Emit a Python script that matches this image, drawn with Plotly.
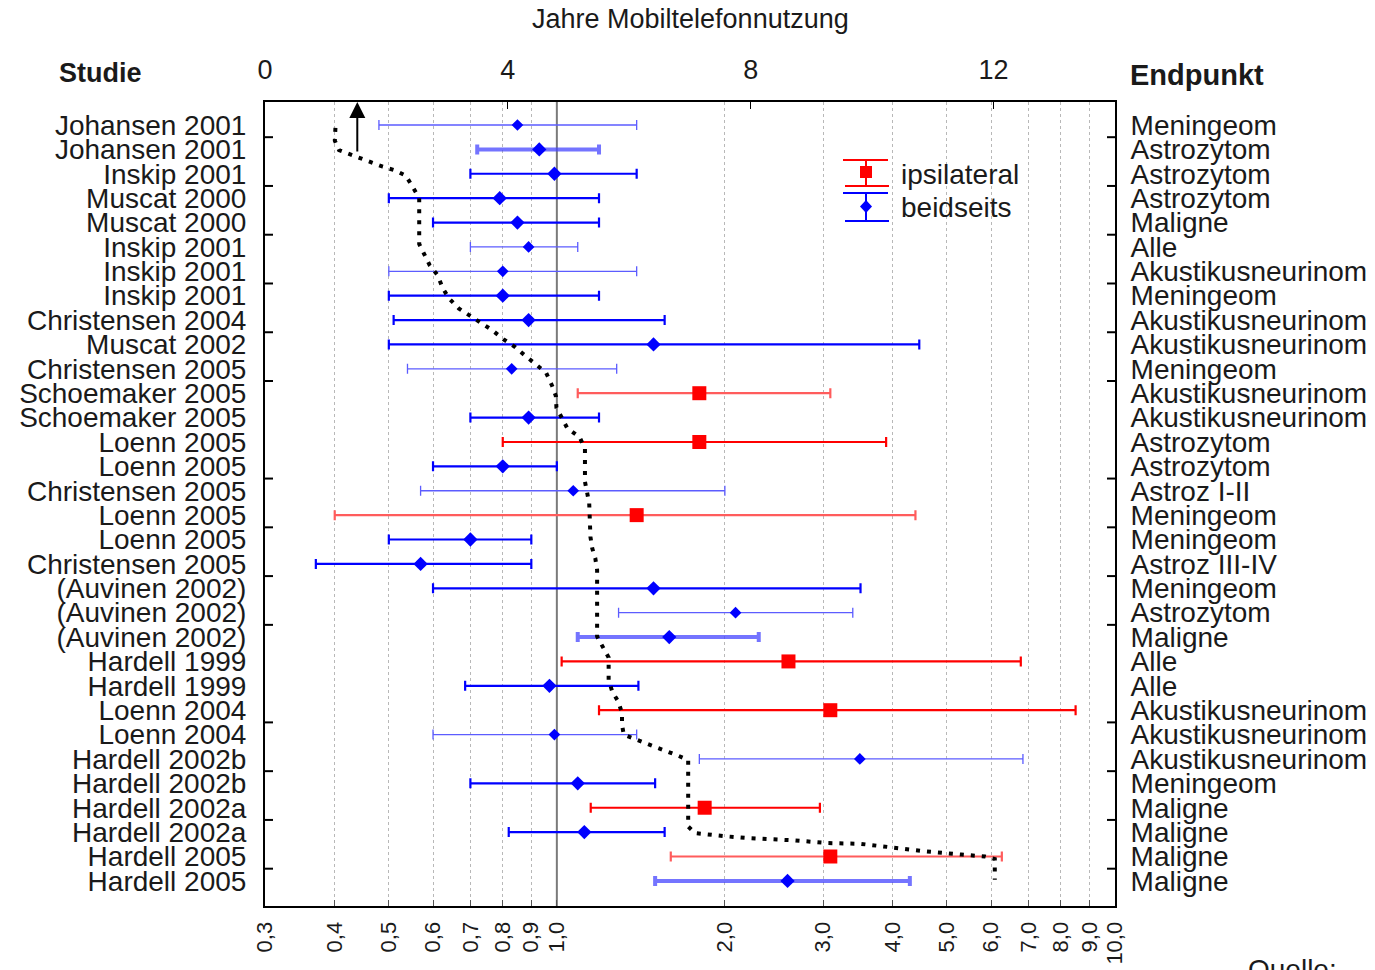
import math
import plotly.graph_objects as go

# ---------------- data ----------------
studies = ["Johansen 2001", "Johansen 2001", "Inskip 2001", "Muscat 2000", "Muscat 2000",
           "Inskip 2001", "Inskip 2001", "Inskip 2001", "Christensen 2004", "Muscat 2002",
           "Christensen 2005", "Schoemaker 2005", "Schoemaker 2005", "Loenn 2005", "Loenn 2005",
           "Christensen 2005", "Loenn 2005", "Loenn 2005", "Christensen 2005", "(Auvinen 2002)",
           "(Auvinen 2002)", "(Auvinen 2002)", "Hardell 1999", "Hardell 1999", "Loenn 2004",
           "Loenn 2004", "Hardell 2002b", "Hardell 2002b", "Hardell 2002a", "Hardell 2002a",
           "Hardell 2005", "Hardell 2005"]

endpoints = ["Meningeom", "Astrozytom", "Astrozytom", "Astrozytom", "Maligne",
             "Alle", "Akustikusneurinom", "Meningeom", "Akustikusneurinom", "Akustikusneurinom",
             "Meningeom", "Akustikusneurinom", "Akustikusneurinom", "Astrozytom", "Astrozytom",
             "Astroz I-II", "Meningeom", "Meningeom", "Astroz III-IV", "Meningeom",
             "Astrozytom", "Maligne", "Alle", "Alle", "Akustikusneurinom",
             "Akustikusneurinom", "Akustikusneurinom", "Meningeom", "Maligne", "Maligne",
             "Maligne", "Maligne"]

side = ["beidseits"] * 32
for _i in [11, 13, 16, 22, 24, 28, 30]:
    side[_i] = "ipsilateral"

odds_ratio = [0.85, 0.93, 0.99, 0.79, 0.85, 0.89, 0.80, 0.80, 0.89, 1.49,
              0.83, 1.80, 0.89, 1.80, 0.80, 1.07, 1.39, 0.70, 0.57, 1.49,
              2.09, 1.59, 2.60, 0.97, 3.09, 0.99, 3.49, 1.09, 1.84, 1.12,
              3.09, 2.59]
ci_low = [0.48, 0.72, 0.70, 0.50, 0.60, 0.70, 0.50, 0.50, 0.51, 0.50,
          0.54, 1.09, 0.70, 0.80, 0.60, 0.57, 0.40, 0.50, 0.37, 0.60,
          1.29, 1.09, 1.02, 0.685, 1.19, 0.60, 1.80, 0.70, 1.15, 0.82,
          1.60, 1.50]
ci_high = [1.39, 1.19, 1.39, 1.19, 1.19, 1.09, 1.39, 1.19, 1.56, 4.46,
           1.28, 3.09, 1.19, 3.89, 1.00, 2.00, 4.39, 0.90, 0.90, 3.50,
           3.39, 2.30, 6.78, 1.40, 8.50, 1.39, 6.84, 1.50, 2.96, 1.56,
           6.27, 4.29]

# years of mobile phone use (top axis) along the study rows
usage_years = [1.16, 1.15, 1.22, 1.38, 1.58, 1.78, 1.94, 2.13, 2.32, 2.44, 2.54, 2.54,
               2.61, 2.71, 2.84, 2.93, 3.03, 3.19, 3.38, 3.57, 3.74, 3.93, 4.12, 4.27,
               4.47, 4.63, 4.73, 4.79, 4.80, 4.98, 5.18, 5.27, 5.27, 5.34, 5.36, 5.39,
               5.44, 5.47, 5.47, 5.56, 5.66, 5.66, 5.72, 5.82, 5.88, 5.88, 5.91, 6.08,
               6.26, 6.46, 6.62, 6.81, 6.97, 6.97, 7.08, 7.63, 7.98, 8.73, 9.27, 9.81,
               10.38, 10.89, 11.47, 11.86, 12.02, 12.02]
usage_row = [0.12, 0.64, 1.03, 1.19, 1.35, 1.57, 1.71, 1.85, 2.08, 2.57, 3.00, 4.88,
             5.26, 5.74, 6.15, 6.70, 7.11, 7.52, 7.83, 8.13, 8.41, 8.79, 9.11, 9.43,
             9.84, 10.16, 10.70, 11.11, 11.59, 12.44, 12.80, 13.26, 14.63, 15.51, 16.89, 17.36,
             17.77, 18.25, 20.98, 21.39, 21.84, 22.76, 23.24, 23.65, 24.12, 24.60, 25.01, 25.17,
             25.33, 25.51, 25.69, 25.87, 26.04, 28.77, 29.04, 29.18, 29.25, 29.34, 29.45, 29.48,
             29.66, 29.79, 29.92, 30.00, 30.10, 30.95]
arrow_years = 1.52
arrow_row_tail = 1.15

or_ticks = [0.3, 0.4, 0.5, 0.6, 0.7, 0.8, 0.9, 1.0, 2, 3, 4, 5, 6, 7, 8, 9, 10]
or_ticktext = ["0,3", "0,4", "0,5", "0,6", "0,7", "0,8", "0,9", "1,0", "2,0", "3,0",
               "4,0", "5,0", "6,0", "7,0", "8,0", "9,0", "10,0"]
year_ticks = [0, 4, 8, 12]

# ---------------- styles (per row) ----------------
# S strong blue, L light thin blue, T thick light blue, R strong red, RL light red
row_style = ["L", "T", "S", "S", "S", "L", "L", "S", "S", "S", "L", "RL", "S", "R", "S", "L",
             "RL", "S", "S", "S", "L", "T", "R", "S", "R", "L", "L", "S", "R", "S", "RL", "T"]
STYLES = {
    "S": dict(line="#0000ff", th=2.2, mk="#0000ff", size=11),
    "L": dict(line="#5c5cff", th=1.3, mk="#0000ff", size=9),
    "T": dict(line="rgba(70,70,255,0.75)", th=4.0, mk="#0000ff", size=11),
    "R": dict(line="#ff0000", th=2.2, mk="#ff0000", size=14),
    "RL": dict(line="#ff5c5c", th=2.2, mk="#ff0000", size=14),
}

W, H = 1375, 970
ML, MR, MT, MB = 265, 260, 102, 64
PW, PH = W - ML - MR, H - MT - MB
Y_RANGE = [32.03, -0.943]
FONT = "Liberation Sans, Arial, sans-serif"
TXT = "#1a1a1a"


def xp(px):
    return (px - ML) / PW


def yp(py):
    return (H - MB - py) / PH


fig = go.Figure()

# reference line at OR = 1
fig.add_trace(go.Scatter(x=[1, 1], y=[Y_RANGE[0] + 1, Y_RANGE[1] - 1], mode="lines",
                         line=dict(color="#7a7a7a", width=2), hoverinfo="skip",
                         showlegend=False, xaxis="x", yaxis="y"))

for i in range(len(studies)):
    st = STYLES[row_style[i]]
    sym = "square" if side[i] == "ipsilateral" else "diamond"
    fig.add_trace(go.Scatter(
        x=[odds_ratio[i]], y=[i], mode="markers",
        marker=dict(symbol=sym, size=st["size"], color=st["mk"], line=dict(width=0)),
        error_x=dict(type="data", symmetric=False,
                     array=[ci_high[i] - odds_ratio[i]],
                     arrayminus=[odds_ratio[i] - ci_low[i]],
                     color=st["line"], thickness=st["th"], width=5),
        name=side[i], showlegend=False, xaxis="x", yaxis="y",
        hovertemplate=studies[i] + " – " + endpoints[i] + "<br>OR %{x}<extra></extra>"))

# helper for right axis labels
fig.add_trace(go.Scatter(x=odds_ratio, y=list(range(len(endpoints))), mode="markers",
                         marker=dict(opacity=0), hoverinfo="skip", showlegend=False,
                         xaxis="x", yaxis="y2"))

# dotted usage curve on top axis
fig.add_trace(go.Scatter(x=usage_years, y=usage_row, mode="lines",
                         line=dict(color="black", width=4, dash="4px,7px"),
                         hoverinfo="skip", showlegend=False, xaxis="x2", yaxis="y"))

shapes = []
# border tick marks on left/right
for r in [0.5, 2.5, 4.5, 6.5, 8.5, 10.5, 14.5, 16.5, 18.5, 20.5, 24.5, 26.5, 28.5, 30.5]:
    shapes.append(dict(type="line", xref="paper", yref="y", x0=0, x1=8 / PW, y0=r, y1=r,
                       line=dict(color="black", width=2)))
    shapes.append(dict(type="line", xref="paper", yref="y", x0=1 - 8 / PW, x1=1, y0=r, y1=r,
                       line=dict(color="black", width=2)))

# custom legend glyphs
def errglyph(ytop, ybot, color):
    out = []
    out.append(dict(type="line", xref="paper", yref="paper", x0=xp(843), x1=xp(888),
                    y0=yp(ytop), y1=yp(ytop), line=dict(color=color, width=2)))
    out.append(dict(type="line", xref="paper", yref="paper", x0=xp(845), x1=xp(889),
                    y0=yp(ybot), y1=yp(ybot), line=dict(color=color, width=2)))
    out.append(dict(type="line", xref="paper", yref="paper", x0=xp(866), x1=xp(866),
                    y0=yp(ytop), y1=yp(ybot), line=dict(color=color, width=2)))
    return out


shapes += errglyph(160, 186, "#ff0000")
shapes += errglyph(193, 221, "#0000ff")
shapes.append(dict(type="rect", xref="paper", yref="paper", x0=xp(860), x1=xp(872),
                   y0=yp(178), y1=yp(166), fillcolor="#ff0000", line=dict(width=0)))
shapes.append(dict(type="path", xref="paper", yref="paper",
                   path=f"M {xp(866)},{yp(200)} L {xp(872)},{yp(206.5)} L {xp(866)},{yp(213)} L {xp(860)},{yp(206.5)} Z",
                   fillcolor="#0000ff", line=dict(width=0)))

annotations = [
    dict(text="Jahre Mobiltelefonnutzung", xref="paper", yref="paper", x=xp(690), y=yp(19),
         xanchor="center", yanchor="middle", showarrow=False, font=dict(size=27, color=TXT)),
    dict(text="<b>Studie</b>", xref="paper", yref="paper", x=xp(100), y=yp(73),
         xanchor="center", yanchor="middle", showarrow=False, font=dict(size=27, color=TXT)),
    dict(text="<b>Endpunkt</b>", xref="paper", yref="paper", x=xp(1128), y=yp(75),
         xanchor="left", yanchor="middle", showarrow=False, font=dict(size=29, color=TXT)),
    dict(text="ipsilateral", xref="paper", yref="paper", x=xp(899), y=yp(174),
         xanchor="left", yanchor="middle", showarrow=False, font=dict(size=28, color=TXT)),
    dict(text="beidseits", xref="paper", yref="paper", x=xp(899), y=yp(207),
         xanchor="left", yanchor="middle", showarrow=False, font=dict(size=28, color=TXT)),
    dict(text="Quelle:", xref="paper", yref="paper", x=xp(1246), y=yp(952),
         xanchor="left", yanchor="top", showarrow=False, font=dict(size=28, color=TXT)),
    dict(text="", xref="x2", yref="y", x=arrow_years, y=Y_RANGE[1],
         axref="x2", ayref="y", ax=arrow_years, ay=arrow_row_tail, showarrow=True,
         arrowhead=2, arrowsize=1.6, arrowwidth=2, arrowcolor="black"),
]

fig.update_layout(
    width=W, height=H,
    margin=dict(l=ML, r=MR, t=MT, b=MB, autoexpand=False),
    paper_bgcolor="white", plot_bgcolor="white",
    font=dict(family=FONT, color=TXT),
    showlegend=False,
    xaxis=dict(type="log", range=[math.log10(0.3), 1], tickmode="array", tickvals=or_ticks,
               ticktext=or_ticktext, tickangle=-90, ticks="inside", ticklen=6, tickcolor="#555",
               tickfont=dict(size=22, color=TXT), showgrid=True, gridcolor="#b8b8b8",
               griddash="dot", gridwidth=1, showline=True, linecolor="black", linewidth=2,
               zeroline=False, ticklabelstandoff=5),
    xaxis2=dict(overlaying="x", side="top", anchor="y", range=[0, 14], tickmode="array",
                tickvals=year_ticks, ticks="inside", ticklen=7, tickcolor="black",
                tickfont=dict(size=27, color=TXT), showgrid=False, showline=True,
                linecolor="black", linewidth=2, zeroline=False, ticklabelstandoff=10),
    yaxis=dict(range=Y_RANGE, tickmode="array", tickvals=list(range(len(studies))),
               ticktext=studies, ticks="", tickfont=dict(size=28, color=TXT),
               showgrid=False, showline=True, linecolor="black", linewidth=2,
               zeroline=False, ticklabelstandoff=11),
    yaxis2=dict(overlaying="y", side="right", anchor="x", range=Y_RANGE, tickmode="array",
                tickvals=list(range(len(endpoints))), ticktext=endpoints, ticks="",
                tickfont=dict(size=28, color=TXT), showgrid=False, showline=True,
                linecolor="black", linewidth=2, zeroline=False, ticklabelstandoff=8),
    shapes=shapes,
    annotations=annotations,
)

fig.write_html("out.html", config={"displayModeBar": False},
               post_script="document.body.style.margin='0px';document.body.style.overflow='hidden';")
